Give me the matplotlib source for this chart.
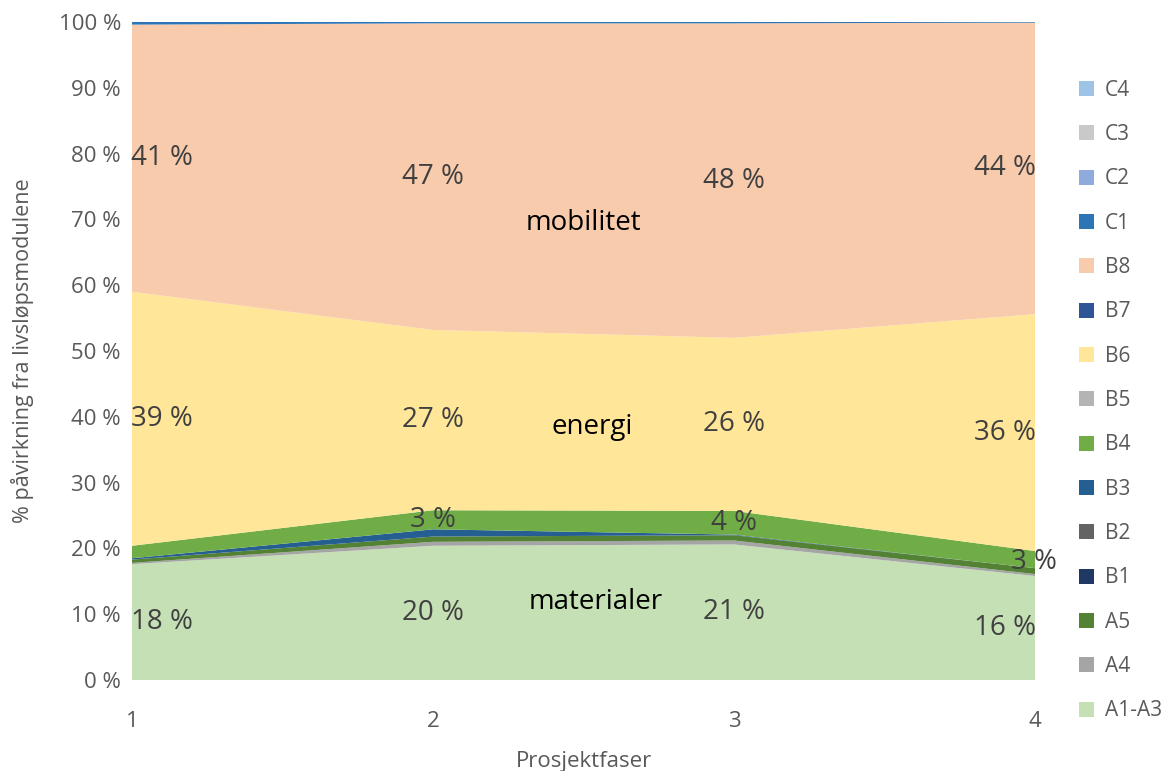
import matplotlib.pyplot as plt
import numpy as np

plt.rcParams['font.family'] = ['Open Sans', 'DejaVu Sans']

faser = [1, 2, 3, 4]
moduler = ["A1-A3", "A4", "A5", "B1", "B2", "B3", "B4", "B5",
           "B6", "B7", "B8", "C1", "C2", "C3", "C4"]
# share of impact per module (%), per project phase
a1_a3 = [17.6, 20.4, 20.6, 15.8]
a4 = [0.2, 0.6, 0.6, 0.3]
a5 = [0.5, 0.8, 0.8, 0.9]
b1 = [0.0, 0.0, 0.0, 0.0]
b2 = [0.0, 0.0, 0.0, 0.0]
b3 = [0.2, 1.1, 0.1, 0.0]
b4 = [1.9, 2.9, 3.6, 2.6]
b5 = [0.0, 0.0, 0.0, 0.0]
b6 = [38.6, 27.4, 26.3, 36.0]
b7 = [0.0, 0.0, 0.0, 0.0]
b8 = [40.6, 46.6, 47.8, 44.3]
c1 = [0.4, 0.2, 0.2, 0.1]
c2 = [0.0, 0.0, 0.0, 0.0]
c3 = [0.0, 0.0, 0.0, 0.0]
c4 = [0.0, 0.0, 0.0, 0.0]

farger = ["#C5E0B4", "#A5A5A5", "#548235", "#203864", "#636363", "#255E91",
          "#70AD47", "#B4B4B4", "#FFE699", "#2F5597", "#F8CBAD", "#2E75B6",
          "#8FAADC", "#C9C9C9", "#9DC3E6"]

serier = [a1_a3, a4, a5, b1, b2, b3, b4, b5, b6, b7, b8, c1, c2, c3, c4]
data = np.array(serier) / 100

fig = plt.figure(figsize=(11.74, 7.71), dpi=100)
ax = fig.add_axes([132/1174, 91/771, 903/1174, 658/771])

polys = ax.stackplot(faser, data, colors=farger, labels=moduler, linewidth=0)

# data labels for the main series
tekstfarge = "#404040"
bunn = np.vstack([np.zeros(4), np.cumsum(data, axis=0)[:-1]])
for idx, vis in [(0, [0, 1, 2, 3]), (6, [1, 2, 3]), (8, [0, 1, 2, 3]), (10, [0, 1, 2, 3])]:
    for j in vis:
        y = bunn[idx, j] + data[idx, j] / 2
        verdi = f"{round(data[idx, j]*100):.0f} %"
        x = faser[j]
        ha = "center"
        if j == 0:
            ha = "left"
            x = x - 0.002
        elif j == 3 and idx != 6:
            ha = "right"
            x = x + 0.003
        elif j == 3 and idx == 6:
            x = x - 0.002
            y = y - 0.003
        ax.text(x, y, verdi, ha=ha, va="center", fontsize=20, color=tekstfarge)

ax.text(2.5, 0.695, "mobilitet", ha="center", va="center", fontsize=20, color="black")
ax.text(2.53, 0.385, "energi", ha="center", va="center", fontsize=20, color="black")
ax.text(2.54, 0.118, "materialer", ha="center", va="center", fontsize=20, color="black")

ax.set_xlim(1, 4)
ax.set_ylim(0, 1)
ax.set_xticks(faser)
ax.set_yticks(np.arange(0, 1.01, 0.1))
ax.set_yticklabels([f"{int(v)} %" for v in np.arange(0, 101, 10)])
ax.tick_params(length=0, labelsize=16, colors="#595959", pad=8)
ax.tick_params(axis="x", pad=22)
for s in ax.spines.values():
    s.set_visible(False)

ax.set_xlabel("Prosjektfaser", fontsize=16, color="#595959", labelpad=14)
ax.set_ylabel("% påvirkning fra livsløpsmodulene", fontsize=15.5, color="#595959",
              labelpad=18)

handles, labels = ax.get_legend_handles_labels()
fig.legend(handles[::-1], labels[::-1], loc="upper left", bbox_to_anchor=(1060/1174, 1 - 61/771),
           frameon=False, fontsize=15, labelcolor="#595959", handlelength=0.75, handleheight=0.75,
           handletextpad=0.5, labelspacing=1.12)

plt.savefig("out.png", dpi=100)
